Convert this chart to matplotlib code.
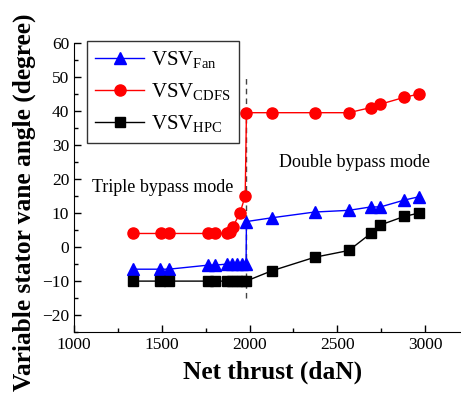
import matplotlib
matplotlib.use("Agg")
import matplotlib.pyplot as plt

plt.rcParams['font.family'] = 'Liberation Serif'
plt.rcParams['mathtext.fontset'] = 'custom'
plt.rcParams['mathtext.rm'] = 'Liberation Serif'

# Net thrust (daN) and vane angles (degree)
fan_thrust = [1335, 1490, 1540, 1765, 1805, 1870, 1900, 1930, 1955, 1980, 1982,
              2125, 2370, 2565, 2690, 2745, 2880, 2965]
fan_angle = [-6.5, -6.5, -6.5, -5.3, -5.3, -5, -5, -5, -5, -5, 7.5,
             8.6, 10.3, 10.8, 11.8, 11.8, 13.8, 14.8]

cdfs_thrust = [1335, 1495, 1540, 1765, 1805, 1870, 1890, 1905, 1945, 1975, 1982,
               2125, 2370, 2565, 2690, 2745, 2880, 2965]
cdfs_angle = [4, 4, 4, 4, 4, 4, 4.5, 6, 10, 15, 39.5,
              39.5, 39.5, 39.5, 41, 42, 44, 45]

hpc_thrust = [1335, 1490, 1540, 1765, 1805, 1870, 1900, 1930, 1955, 1980,
              2125, 2370, 2565, 2690, 2745, 2880, 2965]
hpc_angle = [-10, -10, -10, -10, -10, -10, -10, -10, -10, -10,
             -7, -3, -1, 4, 6.5, 9, 10]

switch_thrust = 1980
switch_span = [-15, 50]

fig = plt.figure(figsize=(4.61, 3.94), dpi=100)
ax = fig.add_axes([0.1605, 0.157, 0.838, 0.734])

ax.plot(fan_thrust, fan_angle, color='blue', marker='^', ms=8, lw=1.0,
        label=r'VSV$_{\mathrm{Fan}}$')
ax.plot(cdfs_thrust, cdfs_angle, color='red', marker='o', ms=8, lw=1.0,
        label=r'VSV$_{\mathrm{CDFS}}$')
ax.plot(hpc_thrust, hpc_angle, color='black', marker='s', ms=7, lw=1.0,
        label=r'VSV$_{\mathrm{HPC}}$')

# mode switch line
ax.plot([switch_thrust, switch_thrust], switch_span, color='#444444', ls='--',
        lw=1.0, dashes=(4, 3), zorder=0)

ax.text(1100, 17.5, 'Triple bypass mode', fontsize=13, va='center')
ax.text(2170, 25, 'Double bypass mode', fontsize=13, va='center')

ax.set_xlim(1000, 3200)
ax.set_ylim(-25, 60)
ax.set_xticks([1000, 1500, 2000, 2500, 3000])
ax.set_yticks(range(-20, 61, 10))
ax.set_xticks(range(1000, 3201, 250), minor=True)
ax.set_yticks(range(-25, 61, 5), minor=True)
ax.tick_params(direction='in', labelsize=12.5, length=5, width=1)
ax.tick_params(which='minor', direction='in', length=3, width=1)
ax.spines['top'].set_visible(False)
ax.spines['right'].set_visible(False)

ax.set_xlabel('Net thrust (daN)', fontsize=18.3, fontweight='bold')
ax.set_ylabel('Variable stator vane angle (degree)', fontsize=18.3,
              fontweight='bold')
ax.xaxis.set_label_coords(0.514, -0.1)
ax.yaxis.set_label_coords(-0.098, 0.45)

leg = ax.legend(loc='upper left', bbox_to_anchor=(0.034, 1.007), fontsize=15,
                frameon=True, fancybox=False, edgecolor='black',
                handlelength=2.35, handletextpad=0.3, labelspacing=0.5,
                borderpad=0.4, borderaxespad=0)
leg.get_frame().set_linewidth(1.0)

fig.savefig('out.png', dpi=100)
